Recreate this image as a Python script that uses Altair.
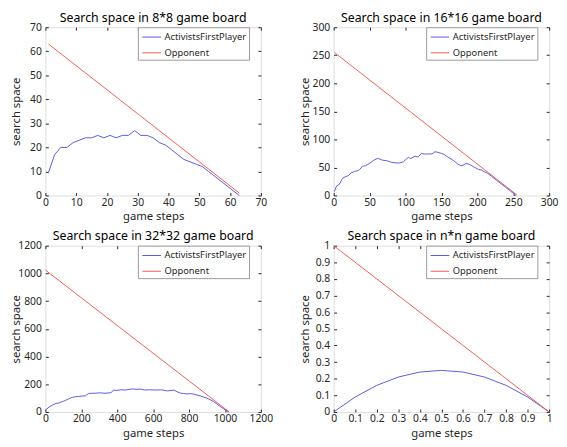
import altair as alt
import pandas as pd

FONT = "Noto Sans"
BLUE = "#5c5cdc"
RED = "#f05c5c"
INK = "#262626"
SERIES = ["ActivistsFirstPlayer", "Opponent"]

# ---- 8*8 board ----
b8_steps = [1, 3, 5, 7, 9, 11, 13, 15, 17, 19, 21, 23, 25, 27, 29, 31,
            33, 35, 37, 39, 41, 43, 45, 47, 49, 51, 53, 55, 57, 59, 61, 63]
b8_first = [9.5, 17, 20, 20, 22, 23, 24, 24, 25, 24, 25, 24, 25, 25, 27, 25,
            25, 24, 22, 21, 19, 17, 15, 14, 13, 12, 10, 8, 6, 4, 2, 0]
b8_opp_steps = [1, 63]
b8_opp = [63, 1]
b8_ticks = [0, 10, 20, 30, 40, 50, 60, 70]

# ---- 16*16 board ----
b16_steps = [1, 4, 8, 11, 13, 17, 20, 24, 29, 33, 36, 40, 44, 47, 52, 56, 61, 64,
             68, 74, 81, 88, 92, 97, 101, 104, 107, 109, 113, 116, 118, 122, 126,
             131, 135, 138, 141, 145, 150, 154, 157, 161, 166, 170, 173, 177, 180,
             184, 188, 191, 195, 198, 202, 205, 210, 214, 220, 226, 233, 239, 245,
             250, 254]
b16_first = [7, 17, 20, 28, 31, 34, 35, 40, 43, 44, 46, 52, 53, 55, 59, 63, 66, 65,
             63, 62, 59, 58, 58, 60, 65, 68, 66, 67, 70, 69, 69, 75, 74,
             74, 74, 75, 78, 77, 75, 73, 70, 67, 63, 59, 56, 53, 54,
             57, 56, 54, 51, 49, 46, 46, 42, 40, 34, 28, 21, 15, 9,
             4, 0]
b16_opp_steps = [1, 255]
b16_opp = [255, 1]
b16_ticks = [0, 50, 100, 150, 200, 250, 300]

# ---- 32*32 board ----
b32_steps = [1, 20, 40, 60, 77, 95, 113, 130, 150, 170, 186, 205, 223, 241, 260,
             277, 300, 332, 360, 369, 378, 400, 420, 442, 465, 488, 510, 530, 552,
             580, 615, 645, 679, 700, 716, 735, 752, 770, 789, 808, 826, 845, 862,
             880, 899, 918, 935, 955, 971, 990, 1005, 1021]
b32_first = [15, 35, 50, 62, 65, 75, 84, 95, 105, 110, 112, 115, 116, 134, 135,
             135, 138, 135, 138, 142, 157, 156, 160, 158, 162, 166, 163, 165, 158,
             160, 158, 160, 152, 155, 158, 145, 136, 133, 130, 132, 129, 122, 116,
             108, 100, 88, 77, 58, 42, 25, 12, 0]
b32_opp_steps = [1, 1023]
b32_opp = [1023, 1]
b32_ticks = [0, 200, 400, 600, 800, 1000, 1200]

# ---- n*n board (normalised) ----
bn_steps = [0, 0.1, 0.2, 0.3, 0.4, 0.5, 0.6, 0.7, 0.8, 0.9, 1.0]
bn_first = [0, 0.09, 0.16, 0.21, 0.24, 0.25, 0.24, 0.21, 0.16, 0.09, 0]
bn_opp_steps = [0, 1]
bn_opp = [1, 0]
bn_ticks = [0, 0.1, 0.2, 0.3, 0.4, 0.5, 0.6, 0.7, 0.8, 0.9, 1.0]

PANEL_W = 219


def frame(steps, first, opp_steps, opp):
    a = pd.DataFrame({"step": steps, "space": first, "series": SERIES[0]})
    b = pd.DataFrame({"step": opp_steps, "space": opp, "series": SERIES[1]})
    return pd.concat([a, b], ignore_index=True)


def panel(title, df, ticks, fmt, h):
    dom = [ticks[0], ticks[-1]]
    common = dict(domain=False, grid=False, ticks=True, tickSize=3, offset=-3,
                  tickColor=INK, tickWidth=1, values=ticks, format=fmt,
                  labelFont=FONT, labelFontSize=10.5, labelColor=INK,
                  labelOverlap=False, labelFlush=False,
                  titleFont=FONT, titleFontSize=11.5, titleColor=INK,
                  titleFontWeight="normal")
    xs = alt.Scale(domain=dom, nice=False, zero=False)
    ys = alt.Scale(domain=dom, nice=False, zero=False)
    main = alt.Chart(df).mark_line(strokeWidth=1).encode(
        x=alt.X("step:Q", scale=xs,
                axis=alt.Axis(orient="bottom", title="game steps",
                              labelPadding=2, titlePadding=3, **common)),
        y=alt.Y("space:Q", scale=ys,
                axis=alt.Axis(orient="left", title="search space",
                              labelPadding=4, titleX=-27, **common)),
        color=alt.Color("series:N",
                        scale=alt.Scale(domain=SERIES, range=[BLUE, RED]),
                        legend=alt.Legend(title=None, orient="none",
                                          legendX=PANEL_W - 6 - 119, legendY=0,
                                          padding=2, strokeColor="#9a9a9a",
                                          fillColor="white",
                                          symbolType="M-0.73,0H1.8",
                                          symbolSize=225, symbolStrokeWidth=1,
                                          labelFont=FONT, labelFontSize=9.5,
                                          labelColor=INK, labelOffset=9,
                                          rowPadding=3)),
    )
    mirror = alt.Chart(df).mark_line(opacity=0).encode(
        x=alt.X("step:Q", scale=xs,
                axis=alt.Axis(orient="top", title=None, labels=False, **common)),
        y=alt.Y("space:Q", scale=ys,
                axis=alt.Axis(orient="right", title=None, labels=False, **common)),
    )
    return alt.layer(main, mirror).resolve_axis(x="independent", y="independent").properties(
        width=PANEL_W, height=h,
        title=alt.TitleParams(title, font=FONT, fontSize=12.5, fontWeight="normal",
                              color="black", offset=-2))


p1 = panel("Search space in 8*8 game board", frame(b8_steps, b8_first, b8_opp_steps, b8_opp),
           b8_ticks, "d", 171)
p2 = panel("Search space in 16*16 game board", frame(b16_steps, b16_first, b16_opp_steps, b16_opp),
           b16_ticks, "d", 171)
p3 = panel("Search space in 32*32 game board", frame(b32_steps, b32_first, b32_opp_steps, b32_opp),
           b32_ticks, "d", 169)
p4 = panel("Search space in n*n game board", frame(bn_steps, bn_first, bn_opp_steps, bn_opp),
           bn_ticks, "~g", 169)

chart = alt.concat(p1, p2, p3, p4, columns=2, spacing=alt.RowColnumber(row=51, column=74),
                   bounds="flush").resolve_scale(color="independent").resolve_legend(
    color="independent").properties(
    padding={"left": 2, "top": 0, "right": 0, "bottom": 0}).configure_view(
    stroke=INK, strokeWidth=1).configure(background="white")

chart.save("out.html", embed_options={"renderer": "svg", "actions": False})
